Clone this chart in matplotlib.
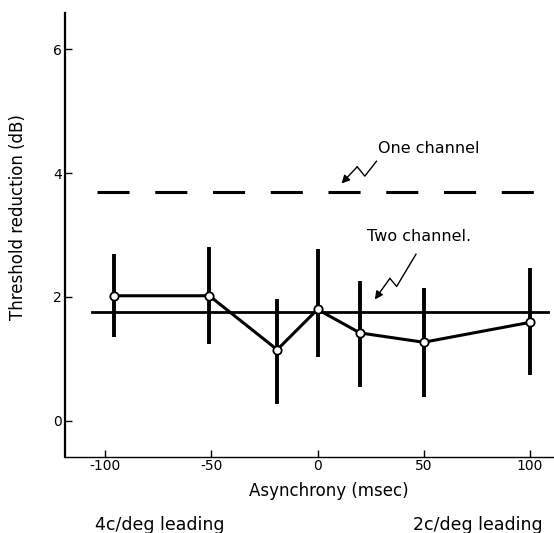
import numpy as np
import matplotlib
matplotlib.use("Agg")
import matplotlib.pyplot as plt

# asynchrony (msec) and threshold reduction (dB)
asynchrony = [-96, -51, -19, 0, 20, 50, 100]
reduction = [2.02, 2.02, 1.15, 1.80, 1.42, 1.27, 1.59]
err_low = [1.35, 1.24, 0.27, 1.03, 0.55, 0.38, 0.74]
err_high = [2.70, 2.81, 1.97, 2.77, 2.26, 2.14, 2.46]

one_channel = 3.70
two_channel = 1.75
one_channel_span = [-104, 105]
two_channel_span = [-106.5, 108.5]

x_ticks = [-100, -50, 0, 50, 100]
x_tick_labels = ['-100', '-50', '0', '50', '100']
y_ticks = [0, 2, 4, 6]

# zigzag pointers (data coords), tail -> head
one_arrow = [(27.8, 4.19), (22.3, 3.95), (18.7, 4.10), (11.3, 3.83)]
two_arrow = [(46.4, 2.69), (37.3, 2.17), (34.1, 2.30), (27.0, 1.96)]

plt.rcParams['font.family'] = ['DejaVu Sans']

fig = plt.figure(figsize=(5.54, 5.33), dpi=100)
ax = fig.add_axes([0.1173, 0.1432, 0.881, 0.8318])

ax.set_xlim(-119, 111)
ax.set_ylim(-0.576, 6.576)

# one channel (dashed) and two channel (solid) reference lines
ax.plot(one_channel_span, [one_channel, one_channel], color='black', lw=2.2,
        dashes=(10.5, 8.4), solid_capstyle='butt', dash_capstyle='butt')
ax.plot(two_channel_span, [two_channel, two_channel], color='black', lw=2.0)

# error bars
ax.vlines(asynchrony, err_low, err_high, colors='black', linewidth=2.8)

# measured data
ax.plot(asynchrony, reduction, color='black', lw=2.2, marker='o',
        markersize=6, markerfacecolor='white', markeredgecolor='black',
        markeredgewidth=1.3, zorder=5)

# zigzag arrows
for pts in (one_arrow, two_arrow):
    xs = [p[0] for p in pts]
    ys = [p[1] for p in pts]
    ax.plot(xs[:-1], ys[:-1], color='black', lw=1.0)
    ax.annotate('', xy=pts[-1], xytext=pts[-2],
                arrowprops=dict(arrowstyle='-|>', color='black', lw=1.0,
                                mutation_scale=12, shrinkA=0, shrinkB=0))

ax.text(28.5, 4.40, 'One channel', fontsize=11.5, va='center', ha='left')
ax.text(23.5, 2.97, 'Two channel.', fontsize=11.5, va='center', ha='left')

# axes styling
for side in ('top', 'right'):
    ax.spines[side].set_visible(False)
ax.spines['left'].set_linewidth(1.6)
ax.spines['bottom'].set_linewidth(1.0)

ax.set_xticks(x_ticks)
ax.set_xticklabels(x_tick_labels)
ax.set_yticks(y_ticks)
ax.tick_params(axis='both', direction='in', length=5, width=1.0,
               labelsize=10, pad=2)

ax.set_xlabel('Asynchrony (msec)', fontsize=12)
ax.xaxis.set_label_coords(0.541, -0.057)
ax.set_ylabel('Threshold reduction (dB)', fontsize=12)
ax.yaxis.set_label_coords(-0.078, 0.54)

fig.text(95 / 554, 1 - 525 / 533, '4c/deg leading', fontsize=12.5,
         ha='left', va='center')
fig.text(543 / 554, 1 - 525 / 533, '2c/deg leading', fontsize=12.5,
         ha='right', va='center')

fig.savefig('out.png', dpi=100)
